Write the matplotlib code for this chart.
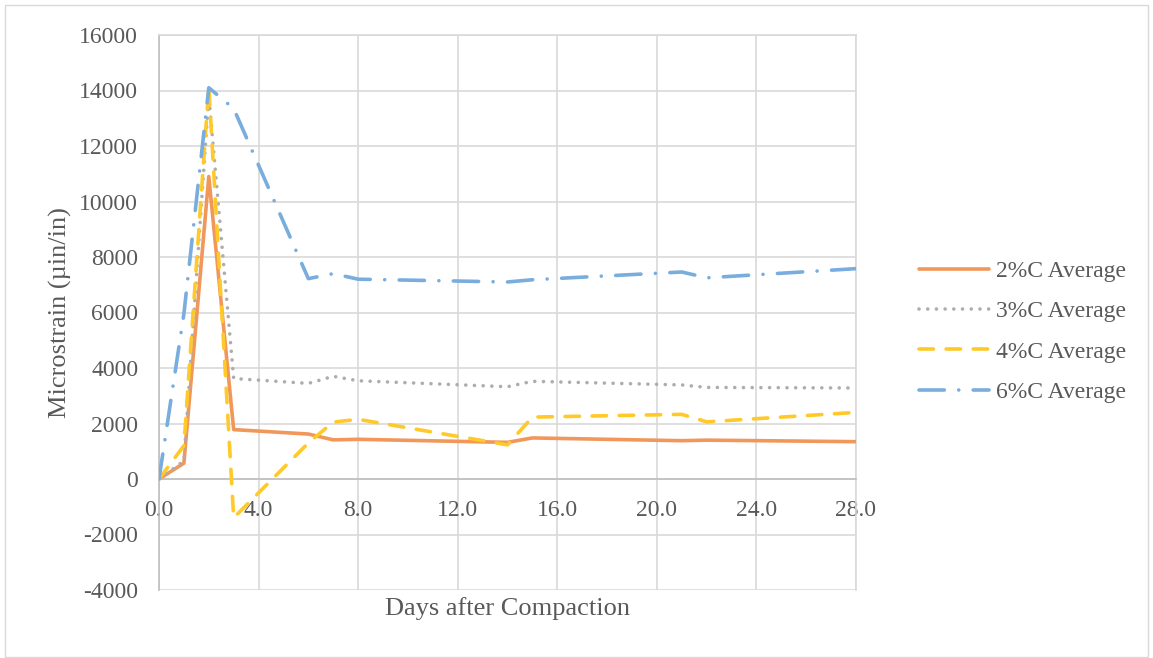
import matplotlib
matplotlib.use("Agg")
import matplotlib.pyplot as plt
from matplotlib.patches import Rectangle

# days after compaction
days = [0, 1, 2, 3, 6, 7, 8, 14, 15, 21, 22, 28]

# microstrain averages
c2_avg = [0, 570, 10900, 1780, 1620, 1410, 1430, 1320, 1480, 1380, 1400, 1345]
c3_avg = [0, 650, 13800, 3620, 3445, 3700, 3540, 3325, 3520, 3390, 3300, 3280]
c4_avg = [0, 1200, 14150, -1400, 1300, 2050, 2150, 1230, 2230, 2330, 2060, 2400]
c6_avg = [0, 5950, 14100, 13350, 7220, 7400, 7200, 7100, 7180, 7460, 7250, 7580]

series_labels = ["2%C Average", "3%C Average", "4%C Average", "6%C Average"]
x_ticks = [0, 4, 8, 12, 16, 20, 24, 28]
y_ticks = list(range(-4000, 16001, 2000))

text_col = "#595959"
grid_col = "#D9D9D9"
axis_col = "#BFBFBF"

plt.rcParams['font.family'] = ['Liberation Serif', 'DejaVu Serif']

fig = plt.figure(figsize=(11.53, 6.58), dpi=100)
ax = fig.add_axes([159 / 1153, 1 - 590 / 658, 697 / 1153, 555 / 658])

lw = 2.6
ax.plot(days, c2_avg, color="#F1975A", lw=lw, solid_capstyle='round',
        solid_joinstyle='round', label=series_labels[0], zorder=3)
ax.plot(days, c3_avg, color="#ADADAD", lw=lw, linestyle=(0, (0.01, 2.4)),
        dash_capstyle='round', label=series_labels[1], zorder=3)
ax.plot(days, c4_avg, color="#FFC929", lw=lw, linestyle=(0, (4, 3.5)),
        dash_capstyle='round', label=series_labels[2], zorder=3)
ax.plot(days, c6_avg, color="#79ADDE", lw=lw, linestyle=(0, (7, 4, 0.01, 4)),
        dash_capstyle='round', label=series_labels[3], zorder=3)

ax.set_xlim(0, 28)
ax.set_ylim(-4000, 16000)
ax.set_xticks(x_ticks)
ax.set_xticklabels([f"{t:.1f}" for t in x_ticks])
ax.set_yticks(y_ticks)
ax.set_yticklabels([str(t) for t in y_ticks])

ax.grid(True, color=grid_col, lw=1.2, zorder=0)
ax.set_axisbelow(True)

ax.spines['bottom'].set_position(('data', 0))
ax.spines['bottom'].set_color(axis_col)
ax.spines['bottom'].set_linewidth(1.2)
ax.spines['left'].set_color(axis_col)
ax.spines['left'].set_linewidth(1.2)
for s in ['top', 'right']:
    ax.spines[s].set_color(grid_col)
    ax.spines[s].set_linewidth(1.2)

ax.tick_params(axis='x', length=0, pad=15, labelsize=17, labelcolor=text_col)
ax.tick_params(axis='y', length=0, pad=15, labelsize=17, labelcolor=text_col)

ax.set_xlabel("Days after Compaction", fontsize=19, color=text_col)
ax.set_ylabel("Microstrain (µin/in)", fontsize=19, color=text_col)
ax.xaxis.set_label_coords(0.5, -0.012)
ax.yaxis.set_label_coords(-0.125, 0.5)

leg = ax.legend(loc='center left', bbox_to_anchor=(919 / 1153, 0.496),
                bbox_transform=fig.transFigure, frameon=False, fontsize=17,
                handlelength=2.98, handletextpad=0.3, labelspacing=0.8,
                borderpad=0, borderaxespad=0)
for t in leg.get_texts():
    t.set_color(text_col)

# outer chart border
fig.patches.append(Rectangle((5 / 1153, 1 / 658), 1143 / 1153, 652 / 658,
                             transform=fig.transFigure, fill=False,
                             edgecolor=grid_col, lw=1.0))

fig.savefig("out.png", dpi=100)
